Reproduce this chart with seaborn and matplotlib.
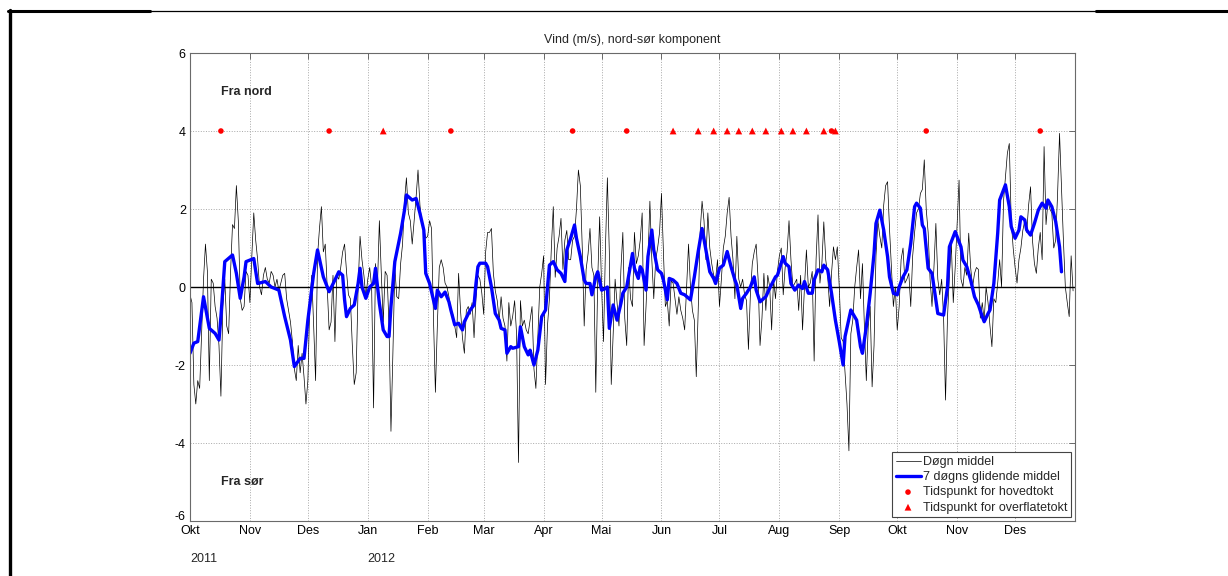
import numpy as np
import pandas as pd
import matplotlib.pyplot as plt
import matplotlib.dates as mdates
import matplotlib.transforms as mtransforms
from matplotlib.lines import Line2D
import seaborn as sns

sns.set_style("white")
plt.rcParams['font.family'] = ['Liberation Sans', 'DejaVu Sans']
plt.rcParams['axes.unicode_minus'] = False

# Døgnmiddel, nord-sør komponent (m/s), fra 1. okt 2011
start = '2011-10-01'
okt11 = [-0.2, -0.4, -2.5, -3.0, -2.4, -2.6, -1.2, 0.2, 1.1, 0.4, -2.4, 0.2, 0.1, -0.5, -0.8,
         -1.5, -2.8, -0.5, 0.2, -1.0, -1.2, 0.4, 1.6, 1.5, 2.6, 1.7, -0.3, -0.6, -0.5, 0.4, 0.3]
nov11 = [-0.4, 0.8, 1.9, 1.2, 0.7, 0.0, -0.2, 0.3, 0.5, 0.2, 0.1, 0.4, 0.3, 0.0, 0.2,
         -0.1, 0.1, 0.3, 0.35, -0.3, -0.6, -0.9, -1.4, -2.1, -2.4, -1.5, -2.2, -1.7, -2.3, -3.0]
des11 = [-2.4, -0.4, 0.3, -1.0, -2.4, 0.8, 1.5, 2.06, 0.9, 1.1, 0.0, -1.1, -0.9, 0.3, -1.4,
         0.3, 0.2, 0.5, 0.9, 1.1, 0.4, -0.2, -0.3, -1.5, -2.5, -2.2, 0.0, 1.3, 0.7, 0.3, -0.25]
jan12 = [0.2, 0.5, 0.0, -3.1, 0.6, 0.0, 1.7, 0.35, -0.9, 0.4, 0.3, -1.0, -3.7, -1.7, 0.5,
         -0.25, -0.3, 0.6, 1.1, 2.2, 2.8, 1.9, 1.7, 1.1, 1.7, 2.3, 3.0, 2.1, 1.6, 1.5, 1.25]
feb12 = [1.3, 1.7, 1.5, -0.8, -2.7, -1.0, 0.5, 0.7, 0.5, 0.1, 0.0, -0.25, -0.6, -0.7, -1.0,
         -1.3, 0.35, -0.6, -1.3, -1.7, -0.6, -0.5, -0.7, -0.4, -1.3, -0.3, 0.3, 0.2, -0.15]
mar12 = [-0.7, 0.9, 1.4, 1.4, 1.5, 0.35, -0.1, -0.35, -0.85, -0.25, -0.8, -1.0, -1.9, -0.4, -1.0,
         -0.75, -0.35, -1.2, -4.5, -0.35, -1.0, -0.85, -1.1, -1.2, -0.85, -0.5, -2.1, -2.6, -1.3, 0.0, 0.35]
apr12 = [0.8, -2.5, -1.0, -0.3, 1.0, 2.06, 0.25, 1.0, 1.3, 1.76, 0.45, 1.2, 1.45, 0.7, 0.7,
         1.2, 1.3, 2.0, 3.0, 2.6, 1.0, -1.0, 0.45, 0.85, 1.5, 0.5, 0.3, -2.7, 0.2, 1.8]
mai12 = [0.0, -1.4, 1.0, 2.8, 0.9, -2.5, -1.2, 0.2, -0.4, -1.0, 0.45, 1.4, -0.8, -1.5, 0.5,
         -0.3, -0.5, 1.4, 0.6, 0.8, 1.2, 1.9, -1.5, -0.5, 0.7, 2.2, 0.7, -0.3, 0.7, 1.0, 1.4]
jun12 = [2.4, 0.9, -0.5, -0.35, -1.0, 0.15, 0.1, -0.3, -0.7, -0.25, -0.6, -0.8, -1.1, 0.0, 1.1,
         0.0, -0.6, -0.85, -2.3, -0.6, 1.4, 2.2, 1.7, 0.7, 1.9, 1.0, 0.6, 0.3, 0.2, 0.7]
jul12 = [-0.5, 0.2, 1.0, 1.3, 1.9, 2.3, 1.3, 0.7, -0.3, 1.3, 0.2, 0.0, 0.2, -0.2, -0.35,
         -1.6, -0.2, 0.6, 0.9, 1.1, 0.2, -1.5, -0.8, 0.35, -0.6, 0.3, 0.0, -1.1, 0.2, -0.3, 0.4]
aug12 = [0.8, 1.0, -0.2, 0.5, 0.9, 1.7, 0.7, 0.0, 0.1, 0.2, -0.6, 0.3, -1.1, 0.0, 0.95,
         0.0, 0.1, 0.4, -1.9, 0.7, 1.85, 0.1, 0.6, 1.67, 0.7, 0.3, -0.5, 0.35, 1.03, 0.7, 1.03]
sep12 = [0.0, -1.3, -1.4, -2.2, -3.0, -4.2, -1.2, -0.85, 0.0, 0.5, 0.95, -0.3, 0.6, -1.0, -2.4,
         -1.0, -0.5, -2.56, -1.5, 0.8, 1.7, 1.3, 1.0, 2.1, 2.6, 2.7, 1.5, 0.5, -0.5, 0.0]
okt12 = [-1.1, -0.5, 0.7, 1.0, 0.1, 0.2, 0.35, -0.5, 0.8, 1.4, 1.9, 2.0, 2.4, 2.5, 3.26,
         2.0, 1.4, 0.2, -0.5, 0.5, 1.63, 0.2, -0.2, 0.2, -0.8, -2.9, -0.8, 0.3, 1.1, -0.4, 0.5]
nov12 = [1.6, 2.74, 0.2, 0.0, 0.5, 0.3, 1.38, 0.5, 0.0, 0.35, 0.5, 0.45, -0.8, -0.4, -0.85,
         0.0, -0.4, -1.0, -1.53, -0.3, -0.4, 0.1, 0.7, 0.0, 2.2, 2.8, 3.43, 3.68, 1.7, 1.0]
des12 = [0.5, 0.1, 0.7, 1.0, 1.45, 1.7, 1.4, 2.1, 2.57, 1.2, 0.6, 0.35, 1.0, 1.4, 0.7,
         3.6, 1.6, 2.2, 2.0, 1.9, 1.0, 1.2, 2.4, 3.94, 2.6, 1.2, 0.0, -0.4, -0.76, 0.8, -0.1]

dogn_middel = (okt11 + nov11 + des11 + jan12 + feb12 + mar12 + apr12 + mai12
               + jun12 + jul12 + aug12 + sep12 + okt12 + nov12 + des12)

# 7 døgns glidende middel, avlest (dag nr. fra start, verdi)
glid_dag = [0, 2, 4, 7, 10, 13, 15, 16, 18, 22, 24, 26, 28, 29, 33, 35, 39, 42, 46, 49,
            52, 54, 57, 59, 61, 64, 66, 69, 72, 75,
            77, 79, 80, 81, 83, 85, 87, 88, 89, 91, 93, 95, 96, 98, 100, 102, 103, 104, 106, 109,
            111, 112, 115, 117, 119, 121, 122, 124, 127, 128, 130, 132, 134, 135, 137, 139, 141, 142, 145, 147,
            148, 149, 150,
            153, 154, 156, 158, 160, 161, 163, 164, 166, 167, 170, 171, 173, 175, 176, 178, 180, 182, 184, 186,
            188, 190, 192, 194, 195, 197, 199, 200, 202, 204, 205, 207, 208, 210, 211, 213, 215, 216, 217, 219,
            221, 222, 223, 224,
            226, 229, 230, 232, 233, 234, 236, 237, 239, 240, 242, 244, 245, 247, 248, 250, 252, 254, 256, 259,
            261, 263, 265, 267, 269, 271, 272, 274, 276, 278, 280, 282, 283, 285, 286, 288, 290, 292, 293, 295,
            297, 298,
            300, 303, 304, 307, 308, 310, 311, 313, 315, 317, 318, 320, 322, 323, 325, 327, 328, 330, 332, 334,
            336, 338, 339, 342, 343, 345, 347, 348, 350, 352, 354, 355, 357, 359, 361, 362, 364, 366, 367, 369,
            371, 373, 375,
            376, 378, 379, 380, 382, 384, 386, 387, 390, 392, 393, 395, 396, 399, 400, 402, 404, 406, 408, 410,
            411, 413, 414, 416, 418, 419, 422, 424, 425, 427, 429, 430, 432, 433, 435, 437, 439, 441, 443, 444,
            446, 448, 450, 451]
glid_val = [-1.70, -1.44, -1.40, -0.25, -1.06, -1.19, -1.36, -0.76, 0.65, 0.82, 0.35, -0.29, 0.26, 0.65, 0.73, 0.09, 0.14, 0.0, -0.08, -0.76,
            -1.36, -2.04, -1.83, -1.83, -0.85, 0.35, 0.95, 0.26, -0.12, 0.18,
            0.39, 0.30, -0.33, -0.76, -0.55, -0.46, 0.09, 0.48, 0.0, -0.29, 0.0, 0.09, 0.48, -0.42, -1.10, -1.27, -1.27, -0.50, 0.65, 1.38,
            1.97, 2.36, 2.23, 2.27, 1.89, 1.46, 0.35, 0.09, -0.55, -0.08, -0.25, -0.13, -0.38, -0.59, -0.97, -0.93, -1.10, -0.89, -0.59, -0.46,
            0.09, 0.52, 0.61,
            0.61, 0.52, 0.0, -0.68, -0.85, -1.06, -1.10, -1.70, -1.53, -1.57, -1.53, -1.02, -1.53, -1.74, -1.62, -2.0, -1.62, -0.76, -0.59, 0.56,
            0.65, 0.44, 0.35, 0.14, 0.95, 1.25, 1.59, 1.25, 0.78, 0.18, 0.09, 0.09, -0.20, 0.26, 0.39, -0.08, -0.04, 0.0, -1.06, -0.46,
            -0.85, -0.63, -0.42, -0.16,
            0.0, 0.86, 0.48, 0.22, 0.52, 0.44, -0.08, 0.78, 1.46, 0.95, 0.44, 0.35, 0.18, -0.33, 0.22, 0.18, 0.09, -0.16, -0.20, -0.33,
            0.26, 0.91, 1.50, 0.95, 0.39, 0.22, 0.09, 0.48, 0.56, 0.91, 0.52, 0.18, 0.05, -0.55, -0.29, -0.16, 0.0, 0.26, -0.08, -0.38,
            -0.29, -0.25,
            -0.03, 0.26, 0.30, 0.78, 0.61, 0.52, 0.09, -0.08, 0.05, -0.04, 0.14, -0.16, -0.16, 0.18, 0.44, 0.39, 0.56, 0.44, -0.16, -0.85,
            -1.40, -2.0, -1.27, -0.59, -0.68, -0.85, -1.53, -1.70, -1.02, -0.16, 0.86, 1.63, 1.97, 1.46, 0.78, 0.26, -0.16, -0.20, 0.0, 0.26,
            0.44, 1.12, 2.06,
            2.15, 2.02, 1.59, 1.50, 0.48, 0.35, -0.33, -0.68, -0.72, 0.0, 1.03, 1.29, 1.42, 1.03, 0.69, 0.52, 0.18, -0.25, -0.46, -0.76,
            -0.89, -0.68, -0.59, 0.09, 1.38, 2.23, 2.62, 2.06, 1.55, 1.25, 1.46, 1.80, 1.72, 1.46, 1.33, 1.63, 1.97, 2.15, 2.02, 2.23,
            2.06, 1.68, 1.03, 0.39]

hovedtokt = ['2011-10-17', '2011-12-12', '2012-02-13', '2012-04-16', '2012-05-14',
             '2012-08-28', '2012-10-16', '2012-12-14']
overflatetokt = ['2012-01-09', '2012-06-07', '2012-06-20', '2012-06-28', '2012-07-05',
                 '2012-07-11', '2012-07-18', '2012-07-25', '2012-08-02', '2012-08-08',
                 '2012-08-15', '2012-08-24', '2012-08-30']

maaneder = ['Okt', 'Nov', 'Des', 'Jan', 'Feb', 'Mar', 'Apr', 'Mai', 'Jun', 'Jul',
            'Aug', 'Sep', 'Okt', 'Nov', 'Des']

t0 = pd.Timestamp(start)
df = pd.DataFrame({'dato': pd.date_range(t0, periods=len(dogn_middel), freq='D'),
                   'vind': dogn_middel})
df_glid = pd.DataFrame({'dato': t0 + pd.to_timedelta(glid_dag, unit='D'),
                        'vind': glid_val})
hoved = pd.to_datetime(hovedtokt)
overflate = pd.to_datetime(overflatetokt)

fig = plt.figure(figsize=(12.28, 5.76), dpi=100)
ax = fig.add_axes([190/1228, 55/576, 885/1228, 468/576])

sns.lineplot(data=df, x='dato', y='vind', color='black', linewidth=0.5,
             label='Døgn middel', ax=ax)
ax.axhline(0, color='black', linewidth=1.0)
sns.lineplot(data=df_glid, x='dato', y='vind', color='blue', linewidth=2.4,
             label='7 døgns glidende middel', ax=ax)
sns.scatterplot(x=hoved, y=np.full(len(hoved), 4), marker='o', color='red', s=16,
                edgecolor='none', label='Tidspunkt for hovedtokt', ax=ax, zorder=3)
sns.scatterplot(x=overflate, y=np.full(len(overflate), 4), marker='^', color='red', s=24,
                edgecolor='none', label='Tidspunkt for overflatetokt', ax=ax, zorder=3)

ax.set_xlim(t0, pd.Timestamp('2013-01-01'))
ax.set_ylim(-6, 6)
ax.set_yticks(range(-6, 7, 2))
ax.set_xticks(pd.date_range(t0, '2012-12-01', freq='MS'))
ax.set_xticklabels(maaneder)
ax.set_xlabel('')
ax.set_ylabel('')
ax.set_axisbelow(True)
ax.grid(True, linestyle=':', color='#a8a8a8', linewidth=0.7)
ax.tick_params(direction='in', length=4, width=0.6, color='#555555', top=True, right=True,
               labelsize=9, pad=3, labelcolor='black')
for sp in ax.spines.values():
    sp.set_color('#6a6a6a')
    sp.set_linewidth(0.8)

# nederste y-etikett litt opp, slik at den ikke kolliderer med "Okt"
fig.canvas.draw()
lab = ax.get_yticklabels()[0]
lab.set_transform(lab.get_transform() + mtransforms.ScaledTranslation(0, 4/72, fig.dpi_scale_trans))

ax.set_title('Vind (m/s), nord-sør komponent', fontsize=9, pad=7)

# årstall under månedene
trans = mtransforms.blended_transform_factory(ax.transData, ax.transAxes)
ax.text(mdates.date2num(t0), -0.081, '2011', transform=trans, ha='left', va='center', fontsize=9)
ax.text(mdates.date2num(pd.Timestamp('2012-01-01')), -0.081, '2012', transform=trans,
        ha='left', va='center', fontsize=9)

ax.text(mdates.date2num(pd.Timestamp('2011-10-17')), 5, 'Fra nord', fontweight='bold',
        fontsize=9, va='center', ha='left')
ax.text(mdates.date2num(pd.Timestamp('2011-10-17')), -5, 'Fra sør', fontweight='bold',
        fontsize=9, va='center', ha='left')

leg = ax.legend(loc='lower right', fontsize=9, frameon=True, fancybox=False,
                edgecolor='#444444', framealpha=1, borderaxespad=0.3, handlelength=2.0,
                handletextpad=0.2, labelspacing=0.25, borderpad=0.3)
leg.get_frame().set_linewidth(0.8)

# ramme rundt figuren
fig.add_artist(Line2D([8/1228, 150/1228], [1 - 11/576, 1 - 11/576], color='black', lw=2.2))
fig.add_artist(Line2D([150/1228, 1096/1228], [1 - 11/576, 1 - 11/576], color='black', lw=0.9))
fig.add_artist(Line2D([1096/1228, 1.0], [1 - 11/576, 1 - 11/576], color='black', lw=2.2))
fig.add_artist(Line2D([9.5/1228, 9.5/1228], [0, 1 - 10/576], color='black', lw=2.4))

fig.savefig('out.png', dpi=100)
